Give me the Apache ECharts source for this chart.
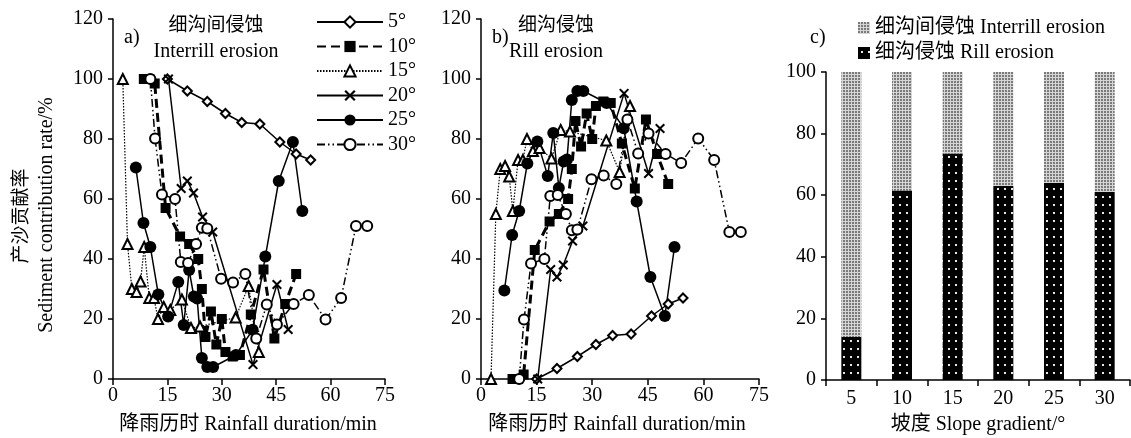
<!DOCTYPE html>
<html><head><meta charset="utf-8">
<script src="https://cdn.jsdelivr.net/npm/echarts@6/dist/echarts.min.js"></script>
<style>html,body{margin:0;padding:0;background:#fff}#c{width:1131px;height:438px}</style>
</head><body><div id="c"></div>
<script>
// ---- data ----
const xTicks = [0, 15, 30, 45, 60, 75];
const yTicksAB = [0, 20, 40, 60, 80, 100, 120];
const seriesNames = ['5°', '10°', '15°', '20°', '25°', '30°'];

const t5  = [15, 20.5, 26, 31, 35.5, 40.5, 46, 50.5, 54.5];
const a5  = [100, 96, 92.5, 88.5, 85.5, 85, 79, 75, 73];
const b5  = [0, 3.5, 7.5, 11.5, 14.5, 15, 21, 25, 27];

const t10 = [8.5, 10, 11.5, 14.5, 18.5, 21, 23.5, 24.5, 25.5, 27, 28.5, 30, 31, 33, 35, 38, 41.5, 44.5, 47.5, 50.5];
const a10 = [100, 100, 98.5, 57, 47.5, 45, 40, 30, 14, 22.5, 11.5, 20, 9, 7.5, 8, 21.5, 36.5, 13.5, 25, 35];
const b10 = [0, 0, 1.5, 43, 52.5, 55, 60, 70, 86, 77.5, 88.5, 80, 91, 92.5, 92, 78.5, 63.5, 86.5, 75, 65];

const t15 = [2.7, 4, 5.2, 6.5, 7.6, 8.6, 10, 11.3, 12.4, 14, 15.8, 19, 21.5, 24, 33.8, 37.4, 40.2];
const a15 = [100, 45, 30, 29, 32.5, 44, 27, 27, 20, 24, 23, 26.5, 17, 17.5, 20.5, 31, 9];
const b15 = [0, 55, 70, 71, 67.5, 56, 73, 73, 80, 76, 77, 73.5, 83, 82.5, 79.5, 69, 91];

const t20 = [15.3, 18.8, 20.5, 22.2, 24.7, 27.5, 38.6, 45.2, 48.3];
const a20 = [100, 63.5, 66, 62, 54, 49, 4.8, 31.5, 16.5];
const b20 = [0, 36.5, 34, 38, 46, 51, 95.2, 68.5, 83.5];

const t25 = [6.3, 8.4, 10.3, 12.5, 15.2, 18, 19.5, 21, 22.3, 23.2, 24.5, 26, 27.6, 33.9, 38.5, 42, 45.7, 49.6, 52.2];
const a25 = [70.5, 52, 44, 28.2, 20.8, 32.3, 18, 36.3, 27.5, 26.8, 7, 4, 4, 8, 16.4, 40.8, 66, 79, 56];
const b25 = [29.5, 48, 56, 71.8, 79.2, 67.7, 82, 63.7, 72.5, 73.2, 93, 96, 96, 92, 83.6, 59.2, 34, 21, 44];

const t30 = [10.3, 11.6, 13.5, 17.1, 18.7, 20.7, 22.9, 24.5, 26, 29.8, 33.1, 36.5, 39.5, 42.4, 45.2, 49.8, 54, 58.6, 62.9, 67, 70.1];
const a30 = [100, 80.2, 61.5, 60, 39, 38.7, 45, 50.4, 50.2, 33.4, 32.2, 35, 13.5, 24.8, 18.2, 25, 28, 19.8, 27, 51, 51];
const b30 = [0, 19.8, 38.5, 40, 61, 61.3, 55, 49.6, 49.8, 66.6, 67.8, 65, 86.5, 75.2, 81.8, 75, 72, 80.2, 73, 49, 49];

const slopes = ['5', '10', '15', '20', '25', '30'];
const rill = [14, 61.5, 73.5, 63, 64, 61];
const interrill = [86, 38.5, 26.5, 37, 36, 39];
const barNames = ['细沟间侵蚀 Interrill erosion', '细沟侵蚀 Rill erosion'];

// ---- build ----
const SERIF = '"Liberation Serif","Times New Roman",serif';
const CJK = '"Noto Sans CJK SC",sans-serif';
const MIX = '"Liberation Serif","Noto Sans CJK SC",serif';
function pairs(t, v) { return t.map((x, i) => [x, v[i]]); }

function makePattern(w, h, draw) {
  const c = document.createElement('canvas'); c.width = w; c.height = h;
  draw(c.getContext('2d')); return c;
}
const patInter = makePattern(3, 3, g => { g.fillStyle = '#d6d6d6'; g.fillRect(0, 0, 3, 3); g.fillStyle = '#7a7a7a'; g.fillRect(0, 0, 2, 2); });
const patRill = makePattern(7, 8, g => { g.fillStyle = '#000'; g.fillRect(0, 0, 7, 8); g.fillStyle = '#e8e8e8'; g.fillRect(3, 4, 2, 2); });

const X_PATH = 'path://M0,1.4L1.4,0L5,3.6L8.6,0L10,1.4L6.4,5L10,8.6L8.6,10L5,6.4L1.4,10L0,8.6L3.6,5Z';
const styles = [
  { symbol: 'emptyDiamond', size: 9, line: { width: 1.5, type: 'solid' }, bw: 1.8 },
  { symbol: 'rect', size: 10, line: { width: 3, type: [9, 5] }, bw: 0 },
  { symbol: 'emptyTriangle', size: 10, line: { width: 1.2, type: [1.5, 1.5] }, bw: 1.8 },
  { symbol: X_PATH, size: 10, line: { width: 1.5, type: 'solid' }, bw: 0 },
  { symbol: 'circle', size: 12, line: { width: 1.5, type: 'solid' }, bw: 0 },
  { symbol: 'emptyCircle', size: 10, line: { width: 1.5, type: [8, 3, 1.5, 3, 1.5, 3] }, bw: 2 }
];
const tArr = [t5, t10, t15, t20, t25, t30];
const aArr = [a5, a10, a15, a20, a25, a30];
const bArr = [b5, b10, b15, b20, b25, b30];

const series = [];
[aArr, bArr].forEach((arr, gi) => {
  arr.forEach((vals, i) => {
    const s = styles[i];
    series.push({
      type: 'line', name: seriesNames[i], xAxisIndex: gi, yAxisIndex: gi,
      data: pairs(tArr[i], vals), symbol: s.symbol, symbolSize: s.size,
      showAllSymbol: true, animation: false,
      lineStyle: Object.assign({ color: '#000' }, s.line),
      itemStyle: { color: '#000', borderColor: '#000', borderWidth: s.bw }
    });
  });
});
series.push({ type: 'bar', name: barNames[1], xAxisIndex: 2, yAxisIndex: 2, stack: 'c', barWidth: 20, data: rill,
  itemStyle: { color: { image: patRill, repeat: 'repeat' } } });
series.push({ type: 'bar', name: barNames[0], xAxisIndex: 2, yAxisIndex: 2, stack: 'c', barWidth: 20, data: interrill,
  itemStyle: { color: { image: patInter, repeat: 'repeat' } } });

const axLine = { show: true, lineStyle: { color: '#000', width: 1.5 } };
const axLabel = { color: '#000', fontSize: 20, fontFamily: SERIF };
function valX(idx) {
  return { type: 'value', gridIndex: idx, min: xTicks[0], max: xTicks[xTicks.length - 1], interval: xTicks[1] - xTicks[0],
    axisLine: axLine, axisTick: { show: true, length: 6, lineStyle: { color: '#000', width: 1.5 } },
    axisLabel: Object.assign({ margin: 7 }, axLabel), splitLine: { show: false } };
}
function valY(idx, max, interval) {
  return { type: 'value', gridIndex: idx, min: 0, max: max, interval: interval,
    axisLine: axLine, axisTick: { show: true, length: 5, lineStyle: { color: '#000', width: 1.5 } },
    axisLabel: Object.assign({ margin: 10 }, axLabel), splitLine: { show: false } };
}

function txt(x, y, text, font, align, rot) {
  return { type: 'text', x: x, y: y, rotation: rot || 0, silent: true,
    style: { text: text, font: font, fill: '#000', textAlign: align || 'center', textVerticalAlign: 'middle' } };
}

const option = {
  animation: false,
  backgroundColor: '#fff',
  grid: [
    { left: 113, top: 19, width: 272, height: 360 },
    { left: 481, top: 19, width: 278, height: 360 },
    { left: 826, top: 72, width: 304, height: 308 }
  ],
  xAxis: [valX(0), valX(1), {
    type: 'category', gridIndex: 2, data: slopes, boundaryGap: true,
    axisLine: axLine, axisTick: { show: true, length: 6, alignWithLabel: false, lineStyle: { color: '#000', width: 1.5 } },
    axisLabel: Object.assign({ margin: 9 }, axLabel)
  }],
  yAxis: [valY(0, 120, 20), valY(1, 120, 20), valY(2, 100, 20)],
  legend: [
    { data: seriesNames, orient: 'vertical', left: 311, top: 7, itemWidth: 66, itemHeight: 14, itemGap: 4.5,
      textStyle: { color: '#000', fontSize: 20, fontFamily: SERIF, lineHeight: 20 }, selectedMode: false },
    { data: barNames, orient: 'vertical', left: 853, top: 13, icon: 'rect', itemWidth: 12, itemHeight: 12, itemGap: 5,
      textStyle: { color: '#000', fontSize: 20, fontFamily: MIX, lineHeight: 20 }, selectedMode: false }
  ],
  graphic: [
    txt(20, 216, '产沙贡献率', '19px ' + CJK, 'center', Math.PI / 2),
    txt(47, 215, 'Sediment contribution rate/%', '20px ' + SERIF, 'center', Math.PI / 2),
    txt(124, 38, 'a)', '20px ' + SERIF, 'left'),
    txt(216, 24, '细沟间侵蚀', '19px ' + CJK, 'center'),
    txt(216, 52, 'Interrill erosion', '20px ' + SERIF, 'center'),
    txt(492, 38, 'b)', '20px ' + SERIF, 'left'),
    txt(556, 24, '细沟侵蚀', '19px ' + CJK, 'center'),
    txt(556, 52, 'Rill erosion', '20px ' + SERIF, 'center'),
    txt(810, 38, 'c)', '20px ' + SERIF, 'left'),
    txt(248, 425, '降雨历时 Rainfall duration/min', '20px ' + MIX, 'center'),
    txt(617, 425, '降雨历时 Rainfall duration/min', '20px ' + MIX, 'center'),
    txt(978, 425, '坡度 Slope gradient/°', '20px ' + MIX, 'center')
  ],
  series: series
};
const chart = echarts.init(document.getElementById('c'), null, { renderer: 'canvas' });
chart.setOption(option);
</script></body></html>
